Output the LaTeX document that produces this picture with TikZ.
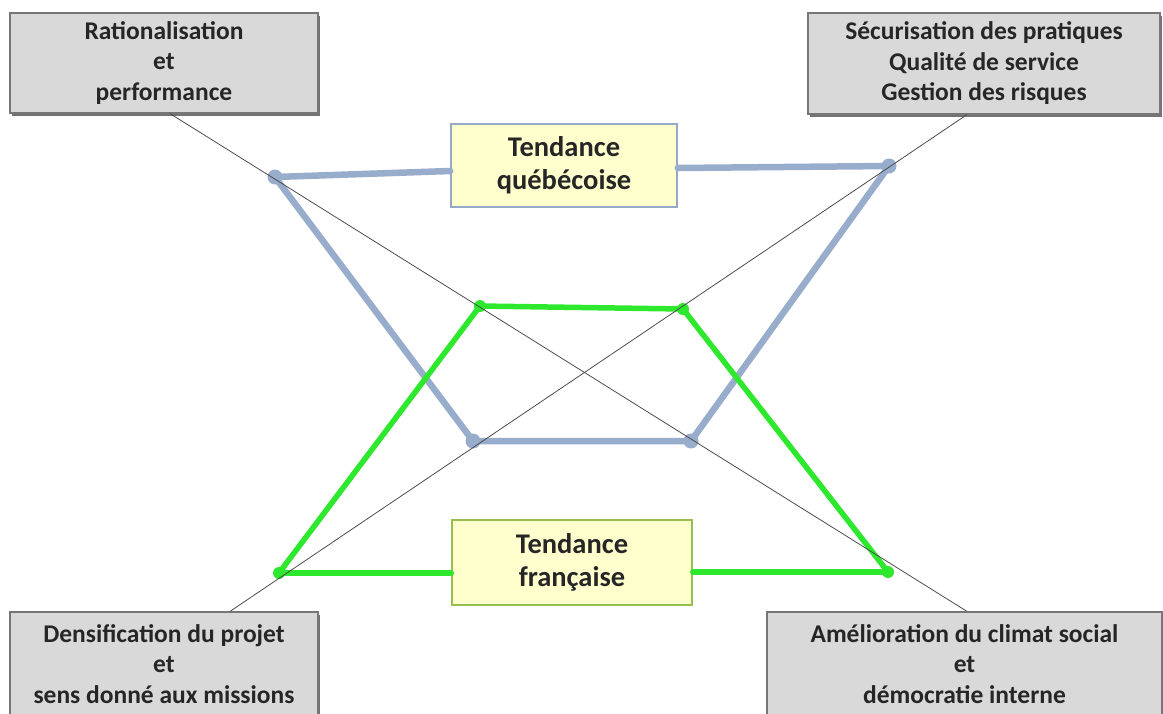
\documentclass[tikz,border=0pt]{standalone}
\usepackage{fontspec}
\setmainfont{Carlito}
\usetikzlibrary{shadows,calc}
\definecolor{boxgray}{RGB}{217,217,217}
\definecolor{boxedge}{RGB}{118,118,118}
\definecolor{quebec}{RGB}{152,172,204}
\definecolor{france}{RGB}{45,232,45}
\definecolor{pale}{RGB}{255,255,206}
\definecolor{qedge}{RGB}{150,170,200}
\definecolor{fedge}{RGB}{150,190,80}
\definecolor{inkgray}{RGB}{38,38,38}

\begin{document}
\begin{tikzpicture}[x=1pt,y=-1pt,
  axisbox/.style={draw=boxedge, line width=1.2pt, fill=boxgray, align=center,
    font=\fontsize{25.5}{30.5}\selectfont\bfseries, text=inkgray, inner sep=0pt,
    drop shadow={shadow xshift=2pt, shadow yshift=-2.5pt, fill=black, opacity=0.55}},
  trendbox/.style={line width=1.6pt, fill=pale, align=center,
    font=\fontsize{28.5}{33}\selectfont\bfseries, text=inkgray, inner sep=0pt},
  qline/.style={draw=quebec, line width=6.5pt, line cap=round, line join=round},
  fline/.style={draw=france, line width=5.5pt, line cap=round, line join=round},
  qdot/.style={circle, fill=quebec, minimum size=15pt, inner sep=0pt},
  fdot/.style={circle, fill=france, minimum size=12pt, inner sep=0pt},
  diag/.style={draw=black!70, line width=0.8pt}
]
\clip (0,0) rectangle (1163,713);
\fill[white] (0,0) rectangle (1163,713);

% the four corner boxes
\node[axisbox, minimum width=308pt, minimum height=100pt] (tl) at (164,63)
  {\rule{0pt}{8pt}Rationalisation\\et\\performance};
\node[axisbox, minimum width=352pt, minimum height=101pt] (tr) at (984,63.5)
  {\rule{0pt}{8pt}Sécurisation des pratiques\\Qualité de service\\Gestion des risques};
\node[axisbox, minimum width=308pt, minimum height=104pt] (bl) at (164,664)
  {Densification du projet\\et\\sens donné aux missions};
\node[axisbox, minimum width=395pt, minimum height=104pt] (br) at (964.5,664)
  {Amélioration du climat social\\et\\démocratie interne};

% trend labels
\node[trendbox, draw=qedge, minimum width=226pt, minimum height=83pt] (qc) at (564,165.5)
  {Tendance\\québécoise};
\node[trendbox, draw=fedge, minimum width=240pt, minimum height=85pt] (fr) at (572,562.5)
  {Tendance\\française};

% polygon corners
\coordinate (q1) at (275,177);
\coordinate (q2) at (889,166);
\coordinate (q3) at (473,441);
\coordinate (q4) at (691,441);
\coordinate (f1) at (279,573);
\coordinate (f2) at (480,306);
\coordinate (f3) at (683,309);
\coordinate (f4) at (888,572);

% Quebec trend
\draw[qline] (q1) -- (qc.west |- 0,171);
\draw[qline] (qc.east |- 0,168) -- (q2);
\draw[qline] (q1) -- (q3) -- (q4) -- (q2);

% French trend
\draw[fline] (f1) -- (f2) -- (f3) -- (f4);
\draw[fline] (f1) -- (f1 -| fr.west);
\draw[fline] (fr.east |- f4) -- (f4);

\foreach \p in {q1,q2,q3,q4} \node[qdot] (d\p) at (\p) {};
\foreach \p in {f1,f2,f3,f4} \node[fdot] (d\p) at (\p) {};

% diagonals joining opposite corners
\draw[diag] ($(tl.south)+(6,0)$) -- ($(br.north)+(2.5,0)$);
\draw[diag] ($(tr.south)+(-17,0)$) -- ($(bl.north)+(66,0)$);
\end{tikzpicture}
\end{document}
